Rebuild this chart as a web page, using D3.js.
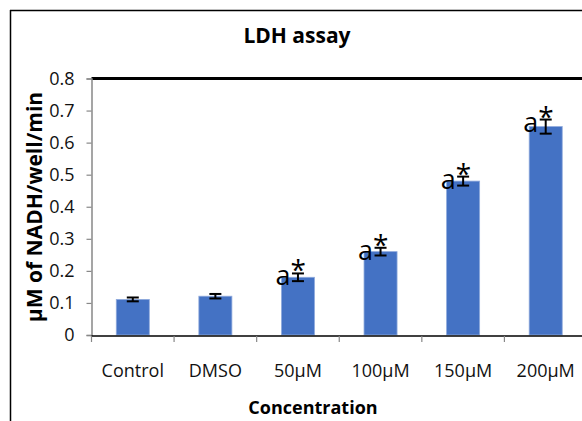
<!DOCTYPE html>
<html>
<head>
<meta charset="utf-8">
<script src="https://cdn.jsdelivr.net/npm/d3@7"></script>
<style>
html,body{margin:0;padding:0;background:#fff;}
svg{display:block;}
</style>
</head>
<body>
<svg id="chart" width="582" height="421"></svg>
<script>
const categories = ["Control", "DMSO", "50\u03bcM", "100\u03bcM", "150\u03bcM", "200\u03bcM"];
const values = [0.111, 0.121, 0.18, 0.26, 0.48, 0.65];
const errors = [0.006, 0.007, 0.012, 0.012, 0.014, 0.022];
const annotations = ["", "", "a", "a", "a", "a"];
const marks = ["", "", "*", "*", "*", "*"];
const yTicks = [0, 0.1, 0.2, 0.3, 0.4, 0.5, 0.6, 0.7, 0.8];
const title = "LDH assay";
const yLabel = "\u03bcM of NADH/well/min";
const xLabel = "Concentration";

const svg = d3.select("#chart");
const W = 582, H = 421;
const m = {left: 91.5, right: -5, top: 78.5, bottom: 86};

const x = d3.scaleBand().domain(categories)
  .range([m.left, W - m.right]).paddingInner(0.6).paddingOuter(0.3);
const y = d3.scaleLinear().domain([0, 0.8]).range([H - m.bottom, m.top]);

// outer frame
svg.append("line").attr("x1", 10).attr("x2", W).attr("y1", 10.5).attr("y2", 10.5)
  .attr("stroke", "#000").attr("stroke-width", 1.5);
svg.append("line").attr("x1", 10.5).attr("x2", 10.5).attr("y1", 10).attr("y2", H)
  .attr("stroke", "#000").attr("stroke-width", 1.5);

// title
svg.append("text").attr("x", 297).attr("y", 43).attr("text-anchor", "middle")
  .attr("font-family", "Open Sans").attr("font-weight", "bold").attr("font-size", 21)
  .attr("fill", "#000").text(title);

// top thick line at max
svg.append("line").attr("x1", m.left).attr("x2", W).attr("y1", y(0.8)).attr("y2", y(0.8))
  .attr("stroke", "#000").attr("stroke-width", 3);

// y axis
const yAxis = d3.axisLeft(y).tickValues(yTicks).tickSize(5).tickPadding(12)
  .tickFormat(d => d === 0 ? "0" : d3.format(".1f")(d));
const gy = svg.append("g").attr("transform", `translate(${m.left},0)`).call(yAxis);
gy.select(".domain").attr("stroke", "#888").attr("stroke-width", 1.5);
gy.selectAll(".tick line").attr("stroke", "#888").attr("stroke-width", 1.2);
gy.selectAll(".tick text").attr("font-family", "Open Sans").attr("font-size", 18).attr("fill", "#111");

// bars
svg.append("g").selectAll("rect").data(categories).join("rect")
  .attr("x", d => x(d)).attr("width", x.bandwidth())
  .attr("y", (d, i) => y(values[i])).attr("height", (d, i) => y(0) - y(values[i]))
  .attr("fill", "#4472C4").attr("stroke", "#8faadc").attr("stroke-width", 0.8);

// x axis line & ticks
const step = x.step();
const x0 = m.left;
svg.append("line").attr("x1", m.left).attr("x2", W).attr("y1", y(0) + 1).attr("y2", y(0) + 1)
  .attr("stroke", "#000").attr("stroke-width", 1.6);
const xb = d3.range(categories.length + 1).map(k => x0 + k * step);
svg.append("g").selectAll("line").data(xb).join("line")
  .attr("x1", d => d).attr("x2", d => d).attr("y1", y(0) + 1).attr("y2", y(0) + 7)
  .attr("stroke", "#888").attr("stroke-width", 1.2);
svg.append("g").selectAll("text").data(categories).join("text")
  .attr("x", d => x(d) + x.bandwidth() / 2).attr("y", 377)
  .attr("text-anchor", "middle").attr("font-family", "Open Sans").attr("font-size", 18)
  .attr("fill", "#111").text(d => d);

// error bars
const eb = svg.append("g").attr("stroke", "#000").attr("stroke-width", 2);
categories.forEach((c, i) => {
  const cx = x(c) + x.bandwidth() / 2;
  const hi = y(values[i] + errors[i]), lo = y(values[i] - errors[i]);
  eb.append("line").attr("x1", cx).attr("x2", cx).attr("y1", hi).attr("y2", lo);
  eb.append("line").attr("x1", cx - 6).attr("x2", cx + 6).attr("y1", hi).attr("y2", hi);
  eb.append("line").attr("x1", cx - 6).attr("x2", cx + 6).attr("y1", lo).attr("y2", lo);
});

// annotations
const ann = svg.append("g").selectAll("text").data(categories).join("text")
  .attr("x", d => x(d) + x.bandwidth() / 2 + 8)
  .attr("y", (d, i) => y(values[i] + errors[i]) + 12)
  .attr("text-anchor", "end").attr("font-family", "Open Sans").attr("font-size", 27)
  .attr("fill", "#000");
ann.append("tspan").text((d, i) => annotations[i]);
ann.append("tspan").attr("dy", -5).attr("font-size", 28).text((d, i) => marks[i]);

// axis labels
svg.append("text").attr("transform", `translate(42,207) rotate(-90)`)
  .attr("text-anchor", "middle").attr("font-family", "Open Sans").attr("font-weight", "bold")
  .attr("font-size", 21).attr("fill", "#000").text(yLabel);
svg.append("text").attr("x", 313).attr("y", 414).attr("text-anchor", "middle")
  .attr("font-family", "Open Sans").attr("font-weight", "bold").attr("font-size", 18)
  .attr("fill", "#000").text(xLabel);
</script>
</body>
</html>
